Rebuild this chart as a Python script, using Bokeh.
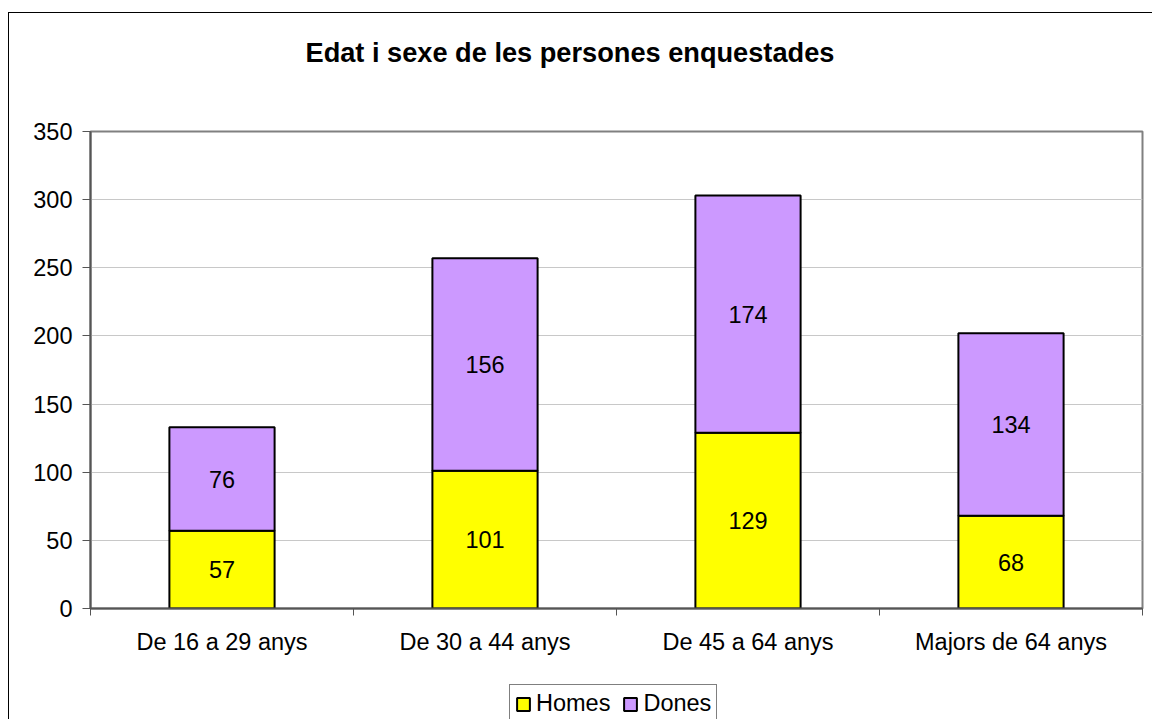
from bokeh.plotting import figure
from bokeh.layouts import column
from bokeh.models import Range1d, FixedTicker, ColumnDataSource, Legend, LegendItem, Title
from bokeh.embed import file_html
from bokeh.resources import INLINE
from bokeh.core.properties import value

categories = ["De 16 a 29 anys", "De 30 a 44 anys", "De 45 a 64 anys", "Majors de 64 anys"]
homes = [57, 101, 129, 68]
dones = [76, 156, 174, 134]
series_names = ["Homes", "Dones"]
series_colors = ["#FFFF00", "#CC99FF"]
y_ticks = [0, 50, 100, 150, 200, 250, 300, 350]
title_text = "Edat i sexe de les persones enquestades"

FONT = "Liberation Sans"

x = [i + 0.5 for i in range(len(categories))]
tops = [h + d for h, d in zip(homes, dones)]
src = ColumnDataSource(dict(
    x=x, homes=homes, dones=dones, tops=tops,
    homes_mid=[h / 2 for h in homes],
    dones_mid=[h + d / 2 for h, d in zip(homes, dones)],
    homes_lbl=[str(v) for v in homes],
    dones_lbl=[str(v) for v in dones],
))

p = figure(x_range=Range1d(0, len(categories)), y_range=Range1d(y_ticks[0], y_ticks[-1]),
           frame_width=1052, frame_height=477,
           min_border_left=81, min_border_right=10, min_border_top=118, min_border_bottom=50,
           output_backend="svg", toolbar_location=None,
           background_fill_color="white", border_fill_color="white")

p.outline_line_color = "#808080"
p.outline_line_width = 2

bar_kw = dict(width=0.4, line_color="black", line_width=2)
r_h = p.vbar(x="x", bottom=0, top="homes", source=src, fill_color=series_colors[0], **bar_kw)
r_d = p.vbar(x="x", bottom="homes", top="tops", source=src, fill_color=series_colors[1], **bar_kw)

for ycol, tcol in (("homes_mid", "homes_lbl"), ("dones_mid", "dones_lbl")):
    p.text(x="x", y=ycol, text=tcol, source=src, text_align="center", text_baseline="middle",
           text_font=value(FONT), text_font_size="23.5px", text_color="black")

# spacer between frame and title
p.add_layout(Title(text=" ", text_font_size="1px", standoff=61), "above")

# title
p.title.text = title_text
p.title.align = "left"
p.title.offset = 215
p.title.standoff = 0
p.title.text_font = FONT
p.title.text_font_size = "27.2px"
p.title.text_font_style = "bold"
p.title.text_color = "black"

# x axis
p.xaxis.ticker = FixedTicker(ticks=x, minor_ticks=list(range(len(categories) + 1)))
p.xaxis.major_label_overrides = {xi: c for xi, c in zip(x, categories)}
p.xaxis.major_tick_line_color = None
p.xaxis.major_tick_out = 0
p.xaxis.major_tick_in = 0
p.xaxis.minor_tick_in = 0
p.xaxis.minor_tick_out = 7
p.xaxis.minor_tick_line_color = "#555555"
p.xaxis.major_label_standoff = 13
p.xaxis.major_label_text_font = FONT
p.xaxis.major_label_text_font_size = "23.5px"
p.xaxis.major_label_text_color = "black"

# y axis
p.yaxis.ticker = FixedTicker(ticks=y_ticks)
p.yaxis.major_tick_out = 8
p.yaxis.major_tick_in = 0
p.yaxis.major_tick_line_color = "#555555"
p.yaxis.minor_tick_line_color = None
p.yaxis.major_label_standoff = 10
p.yaxis.major_label_text_font = FONT
p.yaxis.major_label_text_font_size = "23.5px"
p.yaxis.major_label_text_color = "black"

for ax in (p.xaxis, p.yaxis):
    ax.axis_line_color = "#555555"
    ax.axis_line_width = 2

p.xgrid.visible = False
p.ygrid.ticker = FixedTicker(ticks=y_ticks)
p.ygrid.grid_line_color = "#C8C8C8"
p.ygrid.grid_line_width = 1

# legend strip below the chart (its bars lie outside its view; they only style the legend)
p2 = figure(frame_width=1143, frame_height=61, min_border=0,
            x_range=Range1d(-2, -1), y_range=Range1d(-2, -1),
            x_axis_location=None, y_axis_location=None,
            output_backend="svg", toolbar_location=None,
            background_fill_color="white", border_fill_color="white")
p2.outline_line_color = None
p2.grid.visible = False
l_h = p2.vbar(x="x", bottom=0, top="homes", source=src, fill_color=series_colors[0], **bar_kw)
l_d = p2.vbar(x="x", bottom="homes", top="tops", source=src, fill_color=series_colors[1], **bar_kw)

legend = Legend(items=[LegendItem(label=series_names[0], renderers=[l_h]),
                       LegendItem(label=series_names[1], renderers=[l_d])],
                orientation="horizontal", location=(500, -4),
                glyph_width=16, glyph_height=16, label_standoff=5, spacing=12,
                padding=5, margin=0, border_line_color="black", border_line_width=1,
                label_text_font=FONT, label_text_font_size="23.5px", label_text_color="black",
                background_fill_color="white", background_fill_alpha=1)
p2.add_layout(legend)

layout = column(p, p2, spacing=0,
                styles={"border-top": "1px solid black", "border-left": "1px solid black",
                        "margin-top": "12px", "margin-left": "8px"})

open("out.html", "w").write(file_html(layout, INLINE))
